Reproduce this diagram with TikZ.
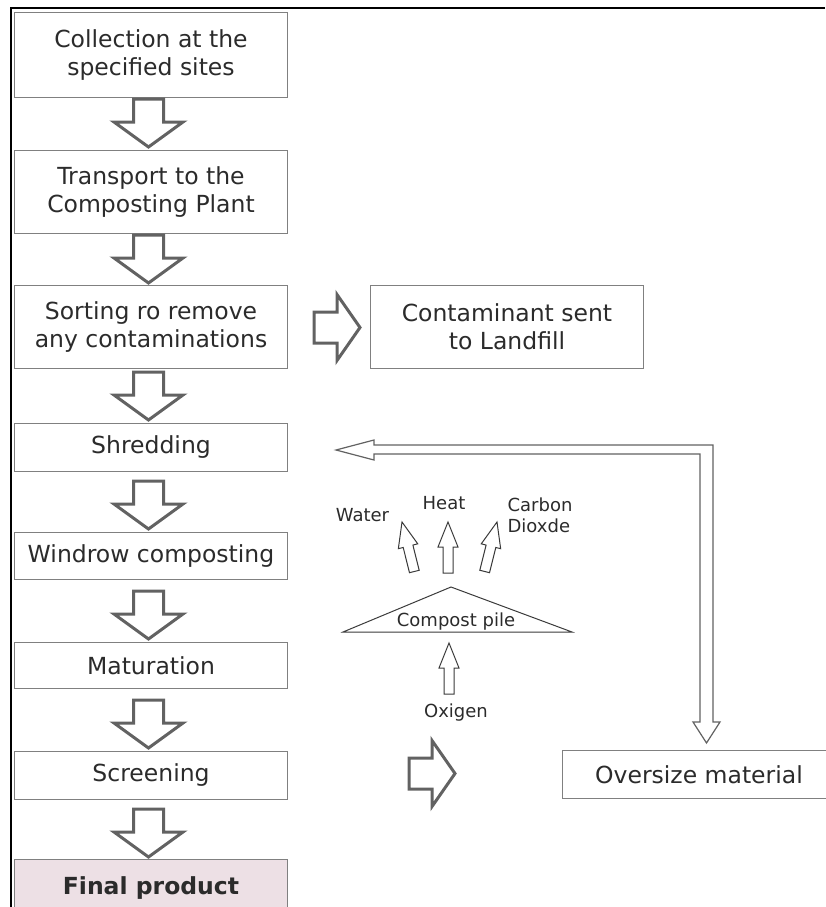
\documentclass[tikz,border=0pt]{standalone}
\usepackage{fontspec}
\setmainfont{DejaVu Sans}
\usetikzlibrary{calc}
\definecolor{txt}{HTML}{2B2B2B}
\definecolor{boxline}{HTML}{808080}
\definecolor{arrline}{HTML}{626262}
\definecolor{smallline}{HTML}{3A3A3A}
\definecolor{finalfill}{HTML}{EDE0E5}
\tikzset{
  bigarr/.style={draw=arrline,line width=3pt,fill=white,line join=miter},
  smallarr/.style={draw=smallline,line width=1pt,fill=white},
  pics/bigdown/.style={code={\draw[bigarr] (0,0) -- (34.5,-25) -- (15,-25) -- (15,-48) -- (-15,-48) -- (-15,-25) -- (-34.5,-25) -- cycle;}},
  pics/bigright/.style={code={\draw[bigarr] (0,0) -- (-23,-33) -- (-23,-15.5) -- (-46,-15.5) -- (-46,15.5) -- (-23,15.5) -- (-23,33) -- cycle;}},
  pics/smallup/.style={code={\draw[smallarr] (0,0) -- (10,25) -- (5,25) -- (5,51) -- (-5,51) -- (-5,25) -- (-10,25) -- cycle;}},
}
\begin{document}
\begin{tikzpicture}[x=1pt,y=-1pt,
  box/.style={draw=boxline,line width=1pt,fill=white,minimum width=273pt,anchor=north west,
    inner sep=0pt,text=txt,font=\fontsize{23.5}{28}\selectfont,align=center},
  lbl/.style={text=txt,font=\fontsize{18}{21}\selectfont,inner sep=0pt}]
\useasboundingbox (0,0) rectangle (825,907);
% frame
\draw[black,line width=2.5pt] (825,8) -- (11,8) -- (11,910);
% main column
\node[box,minimum height=85pt] (b1) at (14,12) {Collection at the\\specified sites};
\node[box,minimum height=83pt] (b2) at (14,150) {Transport to the\\Composting Plant};
\node[box,minimum height=83pt] (b3) at (14,285) {Sorting ro remove\\any contaminations};
\node[box,minimum height=83pt] (c) at (370,285) {Contaminant sent\\to Landfill};
\node[box,minimum height=48pt] (b4) at (14,423) {Shredding};
\node[box,minimum height=47pt] (b5) at (14,532) {Windrow composting};
\node[box,minimum height=46pt] (b6) at (14,642) {Maturation};
\node[box,minimum height=48pt] (b7) at (14,751) {Screening};
\node[box,minimum height=58pt,fill=finalfill,font=\fontsize{23.5}{28}\selectfont\bfseries] (b8) at (14,859) {Final product};
\node[box,minimum height=48pt] (os) at (562,750) {Oversize material};
% block arrows
\pic at ($(b2.north)+(-2.5,-3)$) {bigdown};
\pic at ($(b3.north)+(-2.5,-2)$) {bigdown};
\pic at ($(b4.north)+(-2.5,-3)$) {bigdown};
\pic at ($(b5.north)+(-2.5,-3)$) {bigdown};
\pic at ($(b6.north)+(-2.5,-3)$) {bigdown};
\pic at ($(b7.north)+(-2.5,-3)$) {bigdown};
\pic at ($(b8.north)+(-2.5,-2)$) {bigdown};
\pic at ($(c.west)+(-10,0.5)$) {bigright};
\pic at ($(os.west)+(-107,-1)$) {bigright};
% return arrow (oversize -> shredding)
\draw[draw=arrline,line width=1.2pt,fill=white,line join=miter]
  (336,450) -- (374,440) -- (374,445) -- (713,445) -- (713,722) -- (720,722)
  -- (706.5,743) -- (693,722) -- (700,722) -- (700,454) -- (374,454) -- (374,460) -- cycle;
% compost pile
\coordinate (apex) at (451,587);
\coordinate (bl) at (343,632);
\coordinate (br) at (572,632);
\draw[smallline,line width=1pt] (apex) -- (bl) -- (br) -- cycle;
\node[lbl] (pile) at (456,622) {Compost pile};
\pic at (402,522) [rotate=14] {smallup};
\pic at (448,522) {smallup};
\pic at (497,522) [rotate=-14] {smallup};
\pic at (449,643) {smallup};
\node[lbl] (water) at (362.5,515) {Water};
\node[lbl] (heat) at (444,503) {Heat};
\node[lbl,align=left] (co2) at (540,515) {Carbon\\Dioxde};
\node[lbl] (oxy) at (456,713) {Oxigen};
\end{tikzpicture}
\end{document}
